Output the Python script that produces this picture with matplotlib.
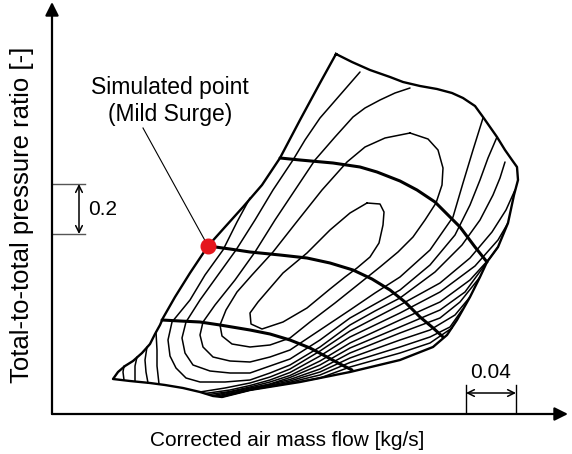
import matplotlib
matplotlib.use('Agg')
import matplotlib.pyplot as plt

plt.rcParams['font.family'] = ['Liberation Sans', 'DejaVu Sans']

# map boundary (surge line, top, choke side, bottom)
outline_flow = [0.2272, 0.2400, 0.2544, 0.2704, 0.2808, 0.2944, 0.3080, 0.3200, 0.3288, 0.3384, 0.3448, 0.3504,
                0.3560, 0.3624, 0.3680, 0.3720,
                0.3728, 0.3696, 0.3648, 0.3568, 0.3480, 0.3424, 0.3344, 0.3240, 0.3160,
                0.3048, 0.2784, 0.2384, 0.1984, 0.1584, 0.1360,
                0.1288, 0.1184, 0.1048, 0.0904, 0.0784, 0.0624, 0.0488,
                0.0528, 0.0584, 0.0648, 0.0720, 0.0784, 0.0824, 0.0864, 0.0888,
                0.0984, 0.1104, 0.1248, 0.1384, 0.1528, 0.1680, 0.1824, 0.1984, 0.2144, 0.2272]
outline_pr = [2.440, 2.408, 2.376, 2.348, 2.328, 2.312, 2.300, 2.284, 2.264, 2.232, 2.188, 2.148,
              2.108, 2.056, 2.016, 1.988,
              1.936, 1.876, 1.764, 1.668, 1.608, 1.548, 1.468, 1.376, 1.316,
              1.268, 1.216, 1.168, 1.128, 1.096, 1.068,
              1.072, 1.088, 1.104, 1.116, 1.124, 1.132, 1.140,
              1.168, 1.192, 1.212, 1.244, 1.280, 1.320, 1.356, 1.384,
              1.468, 1.564, 1.672, 1.748, 1.828, 1.916, 2.024, 2.176, 2.324, 2.440]

# speed lines
sl1_flow = [0.1824, 0.1984, 0.2248, 0.2464, 0.2600, 0.2784, 0.2920, 0.3064, 0.3184, 0.3264, 0.3384, 0.3480]
sl1_pr = [2.024, 2.016, 2.004, 1.988, 1.968, 1.932, 1.896, 1.848, 1.788, 1.748, 1.668, 1.608]
sl2_flow = [0.1248, 0.1424, 0.1584, 0.1824, 0.2040, 0.2224, 0.2408, 0.2560, 0.2704, 0.2824, 0.2944, 0.3040, 0.3128]
sl2_pr = [1.672, 1.660, 1.648, 1.636, 1.624, 1.604, 1.576, 1.540, 1.496, 1.448, 1.388, 1.348, 1.308]
sl3_flow = [0.0880, 0.1024, 0.1184, 0.1344, 0.1584, 0.1744, 0.1904, 0.2064, 0.2200, 0.2304, 0.2400]
sl3_pr = [1.376, 1.372, 1.368, 1.356, 1.336, 1.320, 1.296, 1.264, 1.228, 1.200, 1.176]

# efficiency contours
c1_flow = [0.2520, 0.2624, 0.2656, 0.2648, 0.2616, 0.2544, 0.2440, 0.2344, 0.2224, 0.2040, 0.1848, 0.1680,
           0.1592, 0.1584, 0.1648, 0.1848, 0.2040, 0.2224, 0.2384, 0.2520]
c1_pr = [1.844, 1.840, 1.808, 1.756, 1.684, 1.628, 1.584, 1.548, 1.500, 1.424, 1.368, 1.340,
         1.360, 1.404, 1.448, 1.564, 1.644, 1.736, 1.804, 1.844]
c2_flow = [0.2864, 0.3008, 0.3088, 0.3128, 0.3120, 0.3072, 0.2984, 0.2888, 0.2768, 0.2624, 0.2464, 0.2264,
           0.2064, 0.1904, 0.1744, 0.1584, 0.1440, 0.1360, 0.1344, 0.1392, 0.1480, 0.1600, 0.1768, 0.1944,
           0.2160, 0.2360, 0.2504, 0.2664, 0.2864]
c2_pr = [2.124, 2.100, 2.056, 1.984, 1.916, 1.844, 1.776, 1.708, 1.648, 1.588, 1.524, 1.444,
         1.368, 1.304, 1.276, 1.268, 1.280, 1.312, 1.356, 1.416, 1.488, 1.556, 1.648, 1.760,
         1.896, 2.008, 2.068, 2.104, 2.124]
c3_flow = [0.2864, 0.2744, 0.2624, 0.2504, 0.2408, 0.2264, 0.2104, 0.1944, 0.1784, 0.1624, 0.1464, 0.1304,
           0.1208, 0.1184, 0.1208, 0.1288, 0.1424, 0.1584, 0.1744, 0.1904, 0.2144, 0.2384, 0.2584, 0.2784,
           0.3024, 0.3208, 0.3288, 0.3368, 0.3448]
c3_pr = [2.304, 2.284, 2.256, 2.224, 2.188, 2.108, 2.016, 1.896, 1.776, 1.648, 1.536, 1.436,
         1.368, 1.316, 1.268, 1.228, 1.212, 1.208, 1.228, 1.256, 1.336, 1.416, 1.484, 1.548,
         1.656, 1.788, 1.924, 2.056, 2.184]
c4_flow = [0.2464, 0.2304, 0.2144, 0.2024, 0.1928, 0.1768, 0.1624, 0.1472, 0.1328, 0.1184, 0.1072, 0.1040,
           0.1064, 0.1128, 0.1264, 0.1424, 0.1584, 0.1744, 0.1904, 0.2144, 0.2384, 0.2584, 0.2784, 0.3024,
           0.3224, 0.3344, 0.3424, 0.3488, 0.3560]
c4_pr = [2.368, 2.276, 2.184, 2.096, 2.016, 1.896, 1.776, 1.656, 1.556, 1.456, 1.368, 1.304,
         1.244, 1.196, 1.172, 1.164, 1.164, 1.192, 1.220, 1.296, 1.384, 1.440, 1.496, 1.596,
         1.716, 1.836, 1.936, 2.024, 2.108]
c5_flow = [0.1584, 0.1480, 0.1368, 0.1224, 0.1104, 0.0960, 0.0928, 0.0944, 0.0992, 0.1072, 0.1184, 0.1384,
           0.1584, 0.1744, 0.1904, 0.2144, 0.2384, 0.2584, 0.2784, 0.3064, 0.3280, 0.3424, 0.3528, 0.3584, 0.3624]
c5_pr = [1.864, 1.768, 1.656, 1.556, 1.456, 1.368, 1.296, 1.232, 1.184, 1.144, 1.128, 1.128,
         1.136, 1.164, 1.196, 1.268, 1.356, 1.412, 1.464, 1.568, 1.676, 1.776, 1.876, 1.944, 2.008]
c6_flow = [0.1184, 0.1384, 0.1584, 0.1744, 0.1904, 0.2144, 0.2384, 0.2584, 0.2784, 0.3104, 0.3344, 0.3520, 0.3632, 0.3704]
c6_pr = [1.088, 1.104, 1.124, 1.148, 1.180, 1.252, 1.332, 1.384, 1.436, 1.524, 1.624, 1.728, 1.816, 1.896]
c7_flow = [0.1224, 0.1424, 0.1584, 0.1744, 0.1904, 0.2144, 0.2384, 0.2584, 0.2784, 0.3104, 0.3384, 0.3568, 0.3648]
c7_pr = [1.082, 1.096, 1.114, 1.136, 1.166, 1.232, 1.308, 1.356, 1.404, 1.488, 1.592, 1.696, 1.764]
c8_flow = [0.1256, 0.1424, 0.1584, 0.1744, 0.1904, 0.2144, 0.2384, 0.2784, 0.3104, 0.3344, 0.3504, 0.3568]
c8_pr = [1.078, 1.090, 1.108, 1.128, 1.154, 1.212, 1.284, 1.376, 1.448, 1.536, 1.624, 1.668]
c9_flow = [0.1288, 0.1584, 0.1744, 0.1904, 0.2144, 0.2384, 0.2784, 0.3104, 0.3304, 0.3480]
c9_pr = [1.074, 1.104, 1.120, 1.146, 1.196, 1.264, 1.348, 1.416, 1.488, 1.608]
c10_flow = [0.1312, 0.1584, 0.1904, 0.2144, 0.2384, 0.2784, 0.3104, 0.3264, 0.3424]
c10_pr = [1.072, 1.100, 1.138, 1.180, 1.244, 1.324, 1.384, 1.448, 1.548]
c11_flow = [0.1336, 0.1584, 0.1904, 0.2144, 0.2384, 0.2784, 0.3024, 0.3224, 0.3344]
c11_pr = [1.070, 1.098, 1.132, 1.168, 1.224, 1.296, 1.336, 1.396, 1.468]
c12_flow = [0.1348, 0.1584, 0.1904, 0.2144, 0.2384, 0.2784, 0.3024, 0.3184, 0.3280]
c12_pr = [1.068, 1.096, 1.127, 1.156, 1.206, 1.268, 1.308, 1.348, 1.416]
c13_flow = [0.1356, 0.1584, 0.1904, 0.2144, 0.2384, 0.2784, 0.3024, 0.3200]
c13_pr = [1.068, 1.096, 1.123, 1.144, 1.188, 1.244, 1.284, 1.344]
a1_flow = [0.0576, 0.0568, 0.0576]
a1_pr = [1.192, 1.168, 1.136]
a2_flow = [0.0680, 0.0664, 0.0664]
a2_pr = [1.228, 1.192, 1.132]
a3_flow = [0.0760, 0.0744, 0.0752, 0.0768]
a3_pr = [1.268, 1.216, 1.168, 1.124]
a4_flow = [0.0832, 0.0840, 0.0840, 0.0856]
a4_pr = [1.328, 1.256, 1.192, 1.120]

contours = [(c1_flow, c1_pr), (c2_flow, c2_pr), (c3_flow, c3_pr), (c4_flow, c4_pr), (c5_flow, c5_pr),
            (c6_flow, c6_pr), (c7_flow, c7_pr), (c8_flow, c8_pr), (c9_flow, c9_pr), (c10_flow, c10_pr),
            (c11_flow, c11_pr), (c12_flow, c12_pr), (c13_flow, c13_pr),
            (a1_flow, a1_pr), (a2_flow, a2_pr), (a3_flow, a3_pr), (a4_flow, a4_pr)]

sim_flow = 0.1248
sim_pr = 1.672
label_flow = 0.0728
label_pr = 2.144

dp_bar = [1.720, 1.920]
dm_bar = [0.3312, 0.3712]

fig = plt.figure(figsize=(5.72, 4.54), dpi=100)
ax = fig.add_axes([52 / 572, 40 / 454, 516 / 572, 412 / 454])
ax.set_xlim(0, 0.4128)
ax.set_ylim(1.0, 2.648)
ax.axis('off')

for cf, cp in contours:
    ax.plot(cf, cp, color='k', lw=1.1, solid_joinstyle='round', solid_capstyle='round')

ax.plot(outline_flow, outline_pr, color='k', lw=1.7, solid_joinstyle='round')
for sf, sp in [(sl1_flow, sl1_pr), (sl2_flow, sl2_pr), (sl3_flow, sl3_pr)]:
    ax.plot(sf, sp, color='k', lw=2.2, solid_joinstyle='round', solid_capstyle='round')

ax.plot([label_flow, sim_flow], [label_pr, sim_pr], color='k', lw=0.8)
ax.plot(sim_flow, sim_pr, 'o', color='#e5161c', ms=10.5, zorder=5)
ax.text(0.0944, 2.252, 'Simulated point\n(Mild Surge)', ha='center', va='center',
        fontsize=16.5, linespacing=1.22)

# axes with arrows
arrow = dict(arrowstyle='-|>', lw=1.6, color='k', mutation_scale=20, shrinkA=0, shrinkB=0)
ax.annotate('', xy=(1, 0), xytext=(0, 0), xycoords='axes fraction', arrowprops=arrow, annotation_clip=False)
ax.annotate('', xy=(0, 1), xytext=(0, 0), xycoords='axes fraction', arrowprops=arrow, annotation_clip=False)

# pressure ratio scale bar
for p in dp_bar:
    ax.plot([0, 0.0264], [p, p], color='#555555', lw=1.0)
ax.annotate('', xy=(0.0216, dp_bar[1]), xytext=(0.0216, dp_bar[0]),
            arrowprops=dict(arrowstyle='<->', lw=1.1, color='k', shrinkA=0, shrinkB=0, mutation_scale=12))
ax.text(0.0288, sum(dp_bar) / 2, '%.1f' % (dp_bar[1] - dp_bar[0]), ha='left', va='center', fontsize=15)

# mass flow scale bar
for m in dm_bar:
    ax.plot([m, m], [1.0, 1.116], color='k', lw=1.0)
ax.annotate('', xy=(dm_bar[1], 1.084), xytext=(dm_bar[0], 1.084),
            arrowprops=dict(arrowstyle='<->', lw=1.1, color='k', shrinkA=0, shrinkB=0, mutation_scale=12))
ax.text(sum(dm_bar) / 2, 1.164, '%.2f' % (dm_bar[1] - dm_bar[0]), ha='center', va='center', fontsize=15)

fig.text(287 / 572, 1 - 440 / 454, 'Corrected air mass flow [kg/s]', ha='center', va='center', fontsize=15)
fig.text(22 / 572, 1 - 215 / 454, 'Total-to-total pressure ratio [-]', ha='center', va='center',
         rotation=90, fontsize=18.5)

fig.savefig('out.png', dpi=100)
